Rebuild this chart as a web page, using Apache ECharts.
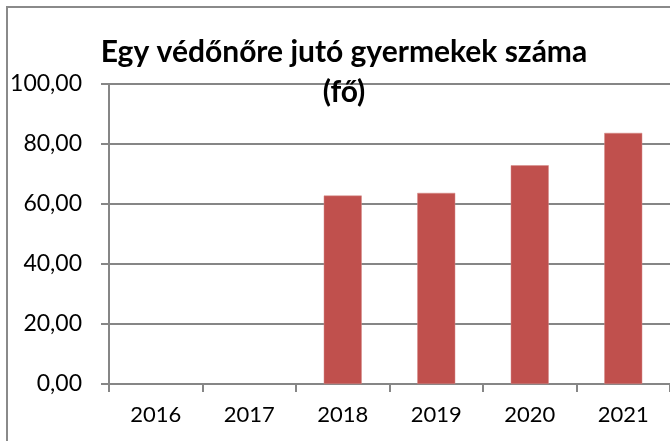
<!DOCTYPE html>
<html>
<head>
<meta charset="utf-8">
<script src="https://cdn.jsdelivr.net/npm/echarts@6/dist/echarts.min.js"></script>
<style>
  html, body { margin: 0; padding: 0; background: #fff; }
  #chart { width: 670px; height: 441px; }
</style>
</head>
<body>
<div id="chart"></div>
<script>
// adatok
const years = ['2016', '2017', '2018', '2019', '2020', '2021'];
const children = [null, null, 62.8, 63.7, 72.9, 83.7];
const titleText = 'Egy védőnőre jutó gyermekek száma\n(fő)';

const myChart = echarts.init(document.getElementById('chart'));
myChart.setOption({
  animation: false,
  title: {
    text: titleText,
    left: 339,
    top: 27,
    textAlign: 'center',
    textStyle: {
      fontFamily: 'Lato',
      fontWeight: 'bold',
      fontSize: 30,
      lineHeight: 40,
      color: '#000'
    }
  },
  // külső keret
  graphic: [{
    type: 'rect',
    shape: { x: 7, y: 7, width: 720, height: 500 },
    style: { fill: 'none', stroke: '#8a8a8a', lineWidth: 2 },
    silent: true
  }],
  grid: {
    left: 109,
    top: 84,
    width: 570,
    height: 300
  },
  xAxis: {
    type: 'category',
    data: years,
    axisLine: { lineStyle: { color: '#868686', width: 2 } },
    axisTick: { show: true, length: 8, lineStyle: { color: '#868686', width: 2 } },
    axisLabel: { margin: 20, fontFamily: 'Lato', fontSize: 22, color: '#000' }
  },
  yAxis: {
    type: 'value',
    min: 0,
    max: 100,
    interval: 20,
    axisLine: { show: true, lineStyle: { color: '#868686', width: 2 } },
    axisTick: { show: true, length: 8, lineStyle: { color: '#868686', width: 2 } },
    splitLine: { lineStyle: { color: '#868686', width: 2 } },
    axisLabel: {
      margin: 27,
      fontFamily: 'Lato',
      fontSize: 23,
      color: '#000',
      formatter: v => v.toFixed(2).replace('.', ',')
    }
  },
  series: [{
    type: 'bar',
    data: children,
    barWidth: 38,
    itemStyle: { color: '#C0504D', borderColor: '#d58a88', borderWidth: 0.5 }
  }]
});
</script>
</body>
</html>
